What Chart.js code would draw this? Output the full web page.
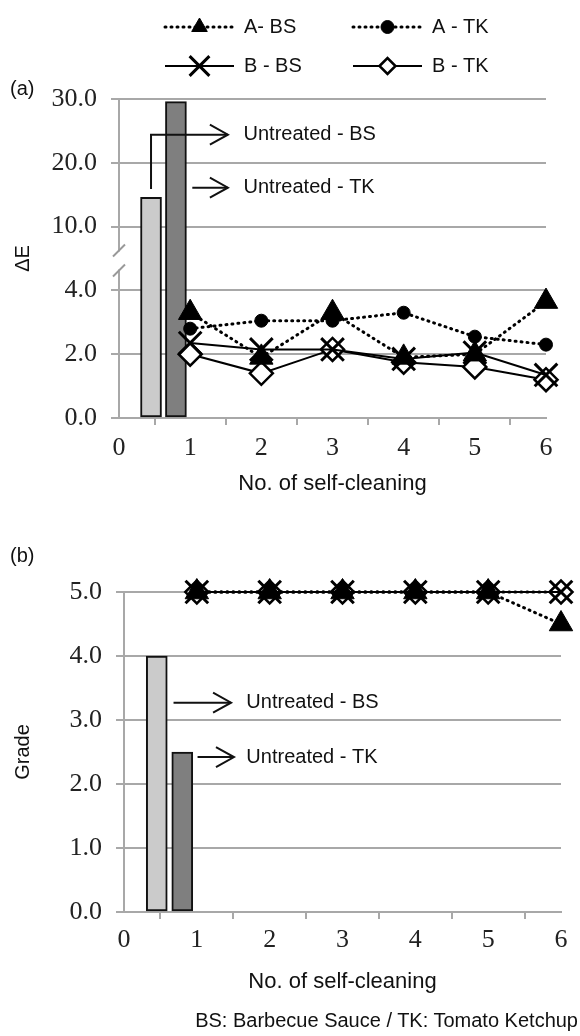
<!DOCTYPE html>
<html><head><meta charset="utf-8">
<script src="https://cdn.jsdelivr.net/npm/chart.js@4.4.1/dist/chart.umd.min.js"></script>
<style>
html,body{margin:0;padding:0;background:#fff;}
#wrap{position:relative;width:580px;height:1036px;overflow:hidden;background:#fff;}
#ca{position:absolute;left:0;top:0;}
#cb{position:absolute;left:0;top:510px;}
#note{position:absolute;right:2px;top:1009px;font:20px "Liberation Sans",Arial,sans-serif;color:#111;white-space:nowrap;}
</style></head><body>
<div id="wrap">
<canvas id="ca" width="580" height="510"></canvas>
<canvas id="cb" width="580" height="500"></canvas>
<div id="note">BS: Barbecue Sauce / TK: Tomato Ketchup</div>
</div>
<script>
// ---------- data ----------
const cycles = [1, 2, 3, 4, 5, 6];
const seriesNames = ['A- BS', 'A - TK', 'B - BS', 'B - TK'];
const untreatedLabels = ['Untreated - BS', 'Untreated - TK'];
const untreatedX = [0.45, 0.80];

const dE_A_BS = [3.3, 1.9, 3.3, 1.9, 2.0, 3.65];
const dE_A_TK = [2.8, 3.05, 3.05, 3.3, 2.55, 2.3];
const dE_B_BS = [2.35, 2.15, 2.15, 1.85, 2.05, 1.35];
const dE_B_TK = [2.0, 1.4, 2.15, 1.75, 1.6, 1.2];
const dE_untreated = [14.6, 29.6];

const grade_A_BS = [5, 5, 5, 5, 5, 4.5];
const grade_A_TK = [5, 5, 5, 5, 5, 5];
const grade_B_BS = [5, 5, 5, 5, 5, 5];
const grade_B_TK = [5, 5, 5, 5, 5, 5];
const grade_untreated = [4.0, 2.5];

const dE_ticks = [0, 2, 4, 10, 20, 30];
const grade_ticks = [0, 1, 2, 3, 4, 5];
const x_ticks = [0, 1, 2, 3, 4, 5, 6];

// ---------- broken axis scale ----------
function fwd(v){ return v <= 4 ? v : (v >= 10 ? 6 + (v - 10) / 5 : 4 + (v - 4) / 3); }
function inv(d){ return d <= 4 ? d : (d >= 6 ? 10 + (d - 6) * 5 : 4 + (d - 4) * 3); }
class BrokenLinearScale extends Chart.LinearScale {
  getPixelForValue(v){ return v === null ? NaN : super.getPixelForValue(fwd(v)); }
  getValueForPixel(p){ return inv(super.getValueForPixel(p)); }
}
BrokenLinearScale.id = 'brokenLinear';
Chart.register(BrokenLinearScale);

Chart.defaults.font.family = '"Liberation Sans", Arial, sans-serif';
Chart.defaults.color = '#111';

const SANS = '20px "Liberation Sans", Arial, sans-serif';
const SERIF = '"Liberation Serif", "Times New Roman", serif';
const GRID = '#a8a8a8';

function lineSeries(label, values, style){
  return Object.assign({
    type: 'line', label, data: cycles.map((c, i) => ({x: c, y: values[i]})),
    borderColor: '#000', backgroundColor: '#000', pointBorderColor: '#000',
    pointBackgroundColor: '#000', clip: false, tension: 0
  }, style);
}
// order: lower = drawn on top
const styles = [
  {order: 0, borderWidth: 3, borderDash: [1, 5], borderCapStyle: 'round', pointStyle: 'triangle', pointRadius: 13.5, pointBorderWidth: 1, legendRadius: 9},
  {order: 3, borderWidth: 3, borderDash: [1, 5], borderCapStyle: 'round', pointStyle: 'circle', pointRadius: 6.5, pointBorderWidth: 1, legendRadius: 6.5},
  {order: 1, borderWidth: 2, pointStyle: 'crossRot', pointRadius: 16, pointBorderWidth: 3, legendRadius: 14},
  {order: 2, borderWidth: 2, pointStyle: 'rectRot', pointRadius: 11.5, pointBorderWidth: 2.5, pointBackgroundColor: '#fff', legendRadius: 8}
];
function barSeries(i, values){
  return {
    type: 'bar', label: untreatedLabels[i], data: [{x: untreatedX[i], y: values[i]}],
    backgroundColor: i === 0 ? '#cbcbcb' : '#7f7f7f', borderColor: '#111', borderWidth: 2,
    borderSkipped: false, barThickness: 21, grouped: false, order: 5
  };
}

// ---------- plugin: arrows, labels, legend, axis break ----------
const decor = {
  id: 'decor',
  afterDatasetsDraw(chart, args, opts){
    const {ctx} = chart; const xs = chart.scales.x, ys = chart.scales.y;
    ctx.save();
    (opts.arrows || []).forEach(a => {
      const pts = a.path.map(p => [xs.getPixelForValue(p[0]), ys.getPixelForValue(p[1])]);
      ctx.strokeStyle = '#111'; ctx.lineWidth = 2; ctx.lineJoin = 'miter';
      ctx.beginPath();
      pts.forEach((p, i) => i ? ctx.lineTo(p[0], p[1]) : ctx.moveTo(p[0], p[1]));
      ctx.stroke();
      const [tx, ty] = pts[pts.length - 1];
      ctx.beginPath(); ctx.moveTo(tx - 18, ty - 10); ctx.lineTo(tx, ty); ctx.lineTo(tx - 18, ty + 10); ctx.stroke();
      ctx.fillStyle = '#111'; ctx.font = SANS; ctx.textBaseline = 'middle'; ctx.textAlign = 'left';
      ctx.fillText(a.label, xs.getPixelForValue(a.at[0]), ys.getPixelForValue(a.at[1]));
    });
    ctx.restore();
  },
  afterDraw(chart, args, opts){
    const {ctx, chartArea} = chart; const ys = chart.scales.y;
    ctx.save();
    ctx.fillStyle = '#111'; ctx.font = SANS; ctx.textBaseline = 'middle'; ctx.textAlign = 'left';
    if (opts.panel) ctx.fillText(opts.panel.text, opts.panel.x, opts.panel.y);
    if (opts.brk) {
      const mid = (ys.getPixelForValue(opts.brk[0]) + ys.getPixelForValue(opts.brk[1])) / 2 + 2;
      const x = chartArea.left;
      ctx.fillStyle = '#fff'; ctx.fillRect(x - 3, mid - 9, 6, 18);
      ctx.strokeStyle = '#999'; ctx.lineWidth = 2;
      [-10, 10].forEach(d => { ctx.beginPath(); ctx.moveTo(x - 6, mid + d + 6); ctx.lineTo(x + 6, mid + d - 6); ctx.stroke(); });
    }
    if (opts.legend) {
      const L = opts.legend;
      const lines = chart.data.datasets.filter(d => d.type === 'line');
      lines.forEach((d, i) => {
        const col = i % 2, row = Math.floor(i / 2);
        const x0 = L.cols[col], y = L.rows[row];
        ctx.save();
        ctx.strokeStyle = d.borderColor; ctx.lineWidth = d.borderWidth; ctx.lineCap = d.borderCapStyle || 'butt';
        ctx.setLineDash(d.borderDash || []);
        ctx.beginPath(); ctx.moveTo(x0, y); ctx.lineTo(x0 + L.len, y); ctx.stroke();
        ctx.setLineDash([]); ctx.lineCap = 'butt';
        ctx.strokeStyle = d.pointBorderColor; ctx.fillStyle = d.pointBackgroundColor; ctx.lineWidth = d.pointBorderWidth;
        Chart.helpers.drawPoint(ctx, {pointStyle: d.pointStyle, radius: d.legendRadius, rotation: 0, borderWidth: d.pointBorderWidth}, x0 + L.len / 2, y);
        ctx.restore();
        ctx.fillStyle = '#111'; ctx.font = SANS; ctx.textBaseline = 'middle'; ctx.textAlign = 'left';
        ctx.fillText(d.label, x0 + L.len + L.gap, y);
      });
    }
    ctx.restore();
  }
};

function xAxis(height, pad, titlePad){
  return {
    type: 'linear', min: 0, max: 6, offset: false,
    afterBuildTicks: s => { s.ticks = x_ticks.map(v => ({value: v})); },
    ticks: {font: {family: SERIF, size: 26}, color: '#222', padding: pad, maxRotation: 0},
    grid: {drawOnChartArea: false, drawTicks: true, tickLength: 7, color: GRID, lineWidth: 2},
    border: {display: true, color: GRID, width: 2},
    title: {display: true, text: 'No. of self-cleaning', font: {size: 22}, color: '#111', padding: {top: 0, bottom: titlePad}},
    afterFit: s => { s.height = height; }
  };
}
function yAxis(extra, width, title, ticks){
  return Object.assign({
    afterBuildTicks: s => { s.ticks = ticks.map(v => ({value: v})); },
    ticks: {font: {family: SERIF, size: 26}, color: '#222', padding: 14,
            callback: v => Number(v).toFixed(1)},
    grid: {color: GRID, lineWidth: 2, tickLength: 8},
    border: {display: true, color: GRID, width: 2},
    title: {display: true, text: title, font: {size: 20}, color: '#111', padding: {top: 11, bottom: 0}},
    afterFit: s => { s.width = width; }
  }, extra);
}

// ---------- chart (a) ----------
new Chart(document.getElementById('ca'), {
  type: 'line',
  data: {datasets: [
    lineSeries(seriesNames[0], dE_A_BS, styles[0]),
    lineSeries(seriesNames[1], dE_A_TK, styles[1]),
    lineSeries(seriesNames[2], dE_B_BS, styles[2]),
    lineSeries(seriesNames[3], dE_B_TK, styles[3]),
    barSeries(0, dE_untreated), barSeries(1, dE_untreated)
  ]},
  options: {
    responsive: false, animation: false, events: [],
    layout: {padding: {left: 0, right: 34, top: 99, bottom: 0}},
    plugins: {legend: {display: false}, tooltip: {enabled: false},
      decor: {
        panel: {text: '(a)', x: 10, y: 89},
        brk: [4, 10],
        legend: {cols: [165, 353], rows: [27, 66], len: 69, gap: 10},
        arrows: [
          {path: [[0.45, 15.9], [0.45, 24.4], [1.53, 24.4]], at: [1.75, 24.4], label: untreatedLabels[0]},
          {path: [[1.03, 16.1], [1.53, 16.1]], at: [1.75, 16.1], label: untreatedLabels[1]}
        ]
      }},
    scales: {
      x: xAxis(92, 8, 13),
      y: yAxis({type: 'brokenLinear', min: 0, max: 10}, 119, 'ΔE', dE_ticks)
    }
  },
  plugins: [decor]
});

// ---------- chart (b) ----------
new Chart(document.getElementById('cb'), {
  type: 'line',
  data: {datasets: [
    lineSeries(seriesNames[0], grade_A_BS, styles[0]),
    lineSeries(seriesNames[1], grade_A_TK, styles[1]),
    lineSeries(seriesNames[2], grade_B_BS, styles[2]),
    lineSeries(seriesNames[3], grade_B_TK, styles[3]),
    barSeries(0, grade_untreated), barSeries(1, grade_untreated)
  ]},
  options: {
    responsive: false, animation: false, events: [],
    layout: {padding: {left: 0, right: 16, top: 82, bottom: 0}},
    plugins: {legend: {display: false}, tooltip: {enabled: false},
      decor: {
        panel: {text: '(b)', x: 10, y: 46},
        arrows: [
          {path: [[0.68, 3.27], [1.47, 3.27]], at: [1.68, 3.27], label: untreatedLabels[0]},
          {path: [[1.01, 2.42], [1.51, 2.42]], at: [1.68, 2.42], label: untreatedLabels[1]}
        ]
      }},
    scales: {
      x: xAxis(98, 6, 15),
      y: yAxis({type: 'linear', min: 0, max: 5}, 124, 'Grade', grade_ticks)
    }
  },
  plugins: [decor]
});
</script>
</body></html>
